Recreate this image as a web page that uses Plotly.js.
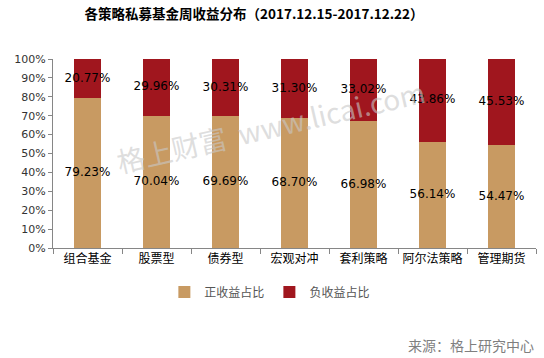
<!DOCTYPE html>
<html><head><meta charset="utf-8">
<script src="https://cdn.plot.ly/plotly-3.0.1.min.js"></script>
<style>body{margin:0;background:#fff}#c{width:544px;height:358px}</style>
</head><body><div id="c"></div>
<script>
const categories = ['组合基金','股票型','债券型','宏观对冲','套利策略','阿尔法策略','管理期货'];
const positive = [79.23, 70.04, 69.69, 68.70, 66.98, 56.14, 54.47];
const negative = [20.77, 29.96, 30.31, 31.30, 33.02, 43.86, 45.53];
const yTicks = [0,10,20,30,40,50,60,70,80,90,100];

const fmt = v => v.toFixed(2) + '%';
const traces = [
  {type:'bar', name:'正收益占比', x:categories, y:positive, marker:{color:'#C89A62'}, width:0.4, hoverinfo:'none'},
  {type:'bar', name:'负收益占比', x:categories, y:negative, marker:{color:'#A0161E'}, width:0.4, hoverinfo:'none'},
  {type:'scatter', mode:'text', x:categories, y:positive.map(v=>v/2), text:positive.map(fmt),
   textfont:{family:'DejaVu Sans, Verdana, sans-serif', size:12, color:'#000'}, showlegend:false, hoverinfo:'none'},
  {type:'scatter', mode:'text', x:categories, y:positive.map((v,i)=>v+negative[i]/2), text:negative.map(fmt),
   textfont:{family:'DejaVu Sans, Verdana, sans-serif', size:12, color:'#000'}, showlegend:false, hoverinfo:'none'}
];

const layout = {
  width:544, height:358,
  margin:{l:53, r:8, t:59, b:110},
  paper_bgcolor:'#fff', plot_bgcolor:'#fff',
  barmode:'stack',
  showlegend:true,
  title:{text:'<b>各策略私募基金周收益分布（2017.12.15-2017.12.22）</b>',
    font:{family:'Noto Sans CJK SC, serif', size:13.5, color:'#000'},
    x:0.467, xref:'container', y:0.96, yref:'container', yanchor:'middle'},
  xaxis:{type:'category', range:[-0.5,6.5], showline:true, linecolor:'#868686', linewidth:1,
    ticks:'outside', tickson:'boundaries', ticklen:5, tickcolor:'#868686', tickangle:0, automargin:false,
    tickfont:{family:'Noto Sans CJK SC, sans-serif', size:12, color:'#000'}, showgrid:false, zeroline:false},
  yaxis:{range:[0,100], tickvals:yTicks, ticktext:yTicks.map(v=>v+'%'), showline:true, linecolor:'#868686',
    linewidth:1, ticks:'outside', ticklen:4, tickcolor:'#868686', showgrid:false, zeroline:false, automargin:false,
    tickfont:{family:'DejaVu Sans, Verdana, sans-serif', size:11, color:'#333'}},
  legend:{orientation:'h', traceorder:'normal', x:0.449, xanchor:'center', y:-0.233, yanchor:'middle',
    font:{family:'Noto Sans CJK SC, sans-serif', size:12, color:'#555'}, itemwidth:30, tracegroupgap:0},
  annotations:[
    {text:'格上财富  www.licai.com', xref:'paper', yref:'paper', x:0.451, y:0.645, showarrow:false,
     textangle:-13, font:{family:'Noto Sans CJK SC, sans-serif', size:28, color:'rgba(200,200,200,0.6)'}},
    {text:'来源：格上研究中心', xref:'paper', yref:'paper', x:1.0, xanchor:'right', y:-0.513, yanchor:'middle',
     showarrow:false, font:{family:'Noto Sans CJK SC, sans-serif', size:14, color:'#7f7f7f'}}
  ]
};
Plotly.newPlot('c', traces, layout, {staticPlot:true});
</script></body></html>
